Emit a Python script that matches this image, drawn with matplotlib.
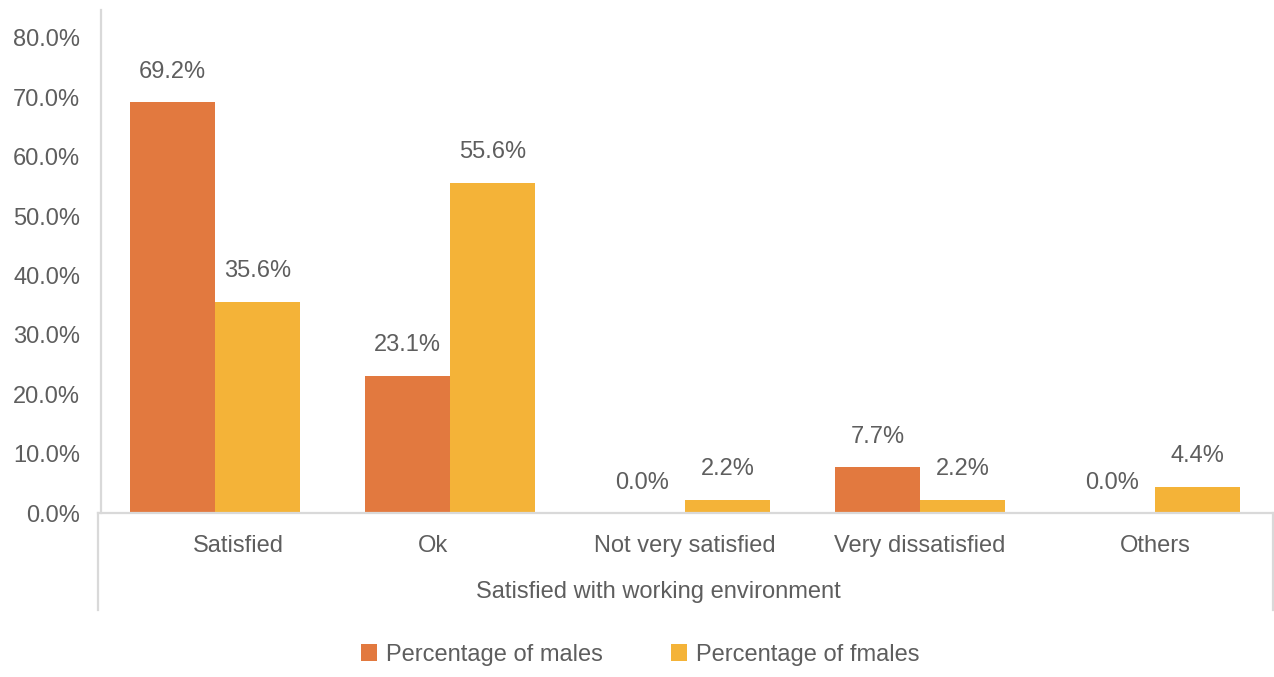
import matplotlib.pyplot as plt
import matplotlib.transforms as mtransforms
import numpy as np

# data
categorias = ['Satisfied', 'Ok', 'Not very satisfied', 'Very dissatisfied', 'Others']
hombres = [69.2, 23.1, 0.0, 7.7, 0.0]
mujeres = [35.6, 55.6, 2.2, 2.2, 4.4]
yticks = [0, 10, 20, 30, 40, 50, 60, 70, 80]

naranja = '#E2793F'
amarillo = '#F4B338'
gris = '#5E5E5E'
linea = '#D9D9D9'

plt.rcParams['font.family'] = ['Liberation Sans', 'DejaVu Sans']

fig = plt.figure(figsize=(12.74, 6.77), dpi=100)
ax = fig.add_axes([97.5/1274, 1-513/677, 1175/1274, 503/677])

x = np.arange(len(categorias))
w = 0.362
b1 = ax.bar(x - w/2, hombres, w, color=naranja, label='Percentage of males')
b2 = ax.bar(x + w/2, mujeres, w, color=amarillo, label='Percentage of fmales')

for barras, vals in [(b1, hombres), (b2, mujeres)]:
    for r, v in zip(barras, vals):
        ax.annotate(f'{v:.1f}%', (r.get_x() + r.get_width()/2, v),
                    xytext=(0, 14), textcoords='offset points',
                    ha='center', va='bottom', fontsize=17, color=gris)

ax.set_xlim(-0.5, len(categorias) - 0.5)
ax.set_ylim(0, 84.7)
ax.set_yticks(yticks)
ax.set_yticklabels([f'{t:.1f}%' for t in yticks])
ax.set_xticks(x)
ax.set_xticklabels(categorias)
ax.tick_params(axis='y', length=0, pad=15, labelsize=17, labelcolor=gris)
ax.tick_params(axis='x', length=0, pad=16, labelsize=17, labelcolor=gris)

# excel corre un poco algunas etiquetas
desp = [23, -17, 0, 0, 0]
for lab, d in zip(ax.get_xticklabels(), desp):
    lab.set_transform(lab.get_transform() +
                      mtransforms.ScaledTranslation(d/100, 0, fig.dpi_scale_trans))

for s in ['top', 'right']:
    ax.spines[s].set_visible(False)
ax.spines['left'].set_color(linea)
ax.spines['left'].set_linewidth(1.6)
ax.spines['left'].set_position(('axes', 3.5/1175))
ax.spines['bottom'].set_color(linea)
ax.spines['bottom'].set_linewidth(1.6)

# lineas de la caja de categorias
yb = -(610 - 513) / 503
ax.plot([0, 0], [0, yb], transform=ax.transAxes, color=linea, lw=1.6, clip_on=False)
ax.plot([1, 1], [0, yb], transform=ax.transAxes, color=linea, lw=1.6, clip_on=False)

fig.text(658/1274, 1-592/677, 'Satisfied with working environment',
         ha='center', va='center', fontsize=17, color=gris)

fig.legend(loc='center', bbox_to_anchor=(640/1274, 1-655/677), ncol=2,
           frameon=False, fontsize=17, labelcolor=gris, handlelength=0.7,
           handleheight=0.7, handletextpad=0.35, columnspacing=2.9)

fig.savefig('out.png', dpi=100)
